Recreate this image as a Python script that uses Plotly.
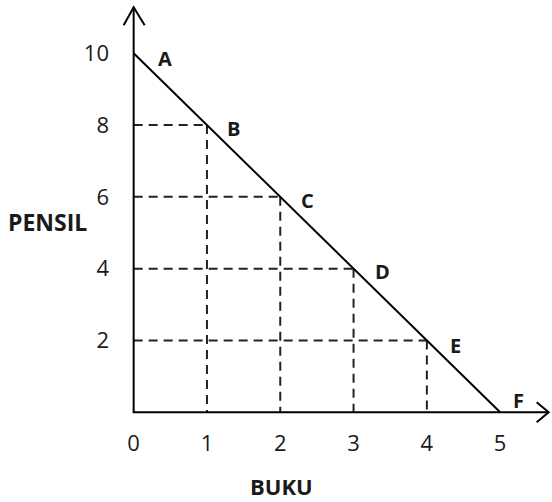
import plotly.graph_objects as go

buku = [0, 1, 2, 3, 4, 5]
pensil = [10, 8, 6, 4, 2, 0]
titik = ["A", "B", "C", "D", "E", "F"]
x_ticks = [0, 1, 2, 3, 4, 5]
y_ticks = [2, 4, 6, 8, 10]

FONT = "Open Sans, Liberation Sans, sans-serif"
INK = "#1a1a1a"

# layout geometry
W, H = 552, 502
L, R, T, B = 119, 0, 3, 79
X_RANGE = [-0.2, -0.2 + (W - L - R) / 73.3]
Y_RANGE = [-0.3, -0.3 + (H - T - B) / 35.9]
PX_X = (W - L - R) / (X_RANGE[1] - X_RANGE[0])
PX_Y = (H - T - B) / (Y_RANGE[1] - Y_RANGE[0])

def dpx(dx, dy):
    return dx / PX_X, dy / PX_Y

# dashed guide lines from each interior point to the axes
gx, gy = [], []
for bx, py in zip(buku, pensil):
    if bx > 0 and py > 0:
        gx += [0, bx, None, bx, bx, None]
        gy += [py, py, None, py, 0, None]

fig = go.Figure()
fig.add_trace(go.Scatter(x=gx, y=gy, mode="lines",
                         line=dict(color="#222", width=2, dash="9px,6px"),
                         hoverinfo="skip", showlegend=False))
fig.add_trace(go.Scatter(x=buku, y=pensil, mode="lines",
                         line=dict(color="black", width=2),
                         showlegend=False))

offsets = [(31, 5), (27, 3), (27, 4), (29, 3), (29, 5), (18, -12)]
for bx, py, t, (dx, dy) in zip(buku, pensil, titik, offsets):
    fig.add_annotation(x=bx, y=py, text=f"<b>{t}</b>", showarrow=False,
                       xshift=dx, yshift=-dy,
                       font=dict(family=FONT, size=20, color=INK))

# axes with open arrowheads
x_tip = 415 / PX_X
y_tip = 405 / PX_Y
fig.add_trace(go.Scatter(x=[x_tip, 0, 0], y=[0, 0, y_tip], mode="lines",
                         line=dict(color="black", width=2),
                         hoverinfo="skip", showlegend=False))
ax1, ay1 = dpx(-10, -18)
ax2, ay2 = dpx(11, -18)
fig.add_trace(go.Scatter(x=[ax1, 0, ax2], y=[y_tip + ay1, y_tip, y_tip + ay2],
                         mode="lines", line=dict(color="black", width=2),
                         hoverinfo="skip", showlegend=False))
bx1, by1 = dpx(-12, 10)
bx2, by2 = dpx(-12, -10)
fig.add_trace(go.Scatter(x=[x_tip + bx1, x_tip, x_tip + bx2], y=[by1, 0, by2],
                         mode="lines", line=dict(color="black", width=2),
                         hoverinfo="skip", showlegend=False))

fig.add_annotation(text="<b>PENSIL</b>", xref="paper", yref="y", x=0, y=190 / PX_Y,
                   xanchor="center", xshift=47 - L, showarrow=False,
                   font=dict(family=FONT, size=23, color=INK))
fig.add_annotation(text="<b>BUKU</b>", xref="x", yref="paper", x=148 / PX_X, y=0,
                   yanchor="middle", yshift=-(486 - (H - B)), showarrow=False,
                   font=dict(family=FONT, size=22, color=INK))

fig.update_xaxes(range=X_RANGE, tickvals=x_ticks, ticktext=[str(v) for v in x_ticks],
                 showgrid=False, zeroline=False, showline=False, ticks="",
                 ticklabelstandoff=5, automargin=False,
                 tickfont=dict(family=FONT, size=22, color=INK), fixedrange=True)
fig.update_yaxes(range=Y_RANGE, tickvals=y_ticks, ticktext=[str(v) for v in y_ticks],
                 showgrid=False, zeroline=False, showline=False, ticks="",
                 ticklabelstandoff=9, automargin=False,
                 tickfont=dict(family=FONT, size=22, color=INK), fixedrange=True)

fig.update_layout(width=W, height=H, margin=dict(l=L, r=R, t=T, b=B, autoexpand=False),
                  plot_bgcolor="white", paper_bgcolor="white", showlegend=False)

fig.write_html("out.html", config={"displayModeBar": False},
               post_script="document.body.style.margin='0px';document.body.style.overflow='hidden';")
